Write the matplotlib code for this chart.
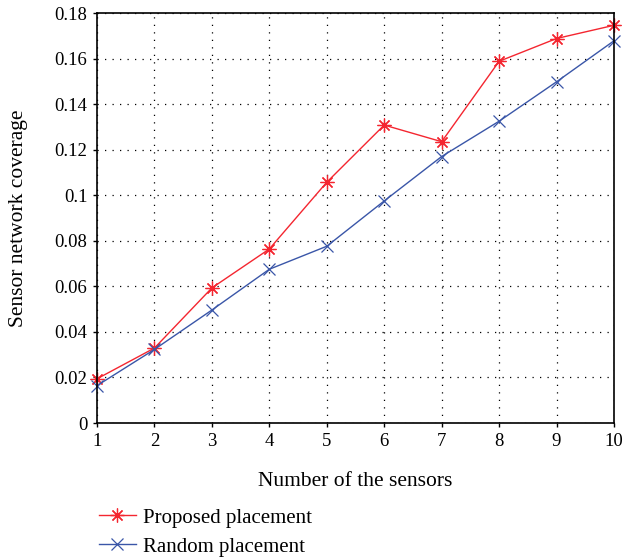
import matplotlib
matplotlib.use("Agg")
import matplotlib.pyplot as plt
from matplotlib.ticker import FuncFormatter

sensors = [1, 2, 3, 4, 5, 6, 7, 8, 9, 10]
proposed = [0.0194, 0.0329, 0.0593, 0.0764, 0.1057, 0.1308, 0.1235, 0.1588, 0.1688, 0.1746]
random_pl = [0.0164, 0.0323, 0.0496, 0.0675, 0.0776, 0.0975, 0.1170, 0.1325, 0.1498, 0.1678]
yticks = [0, 0.02, 0.04, 0.06, 0.08, 0.1, 0.12, 0.14, 0.16, 0.18]

plt.rcParams['font.family'] = ['Liberation Serif', 'DejaVu Serif']

fig = plt.figure(figsize=(6.23, 5.58), dpi=100)
ax = fig.add_axes([97/623, 1-423/558, (614-97)/623, (423-13)/558])

ax.plot(sensors, proposed, color='#f42630', marker=(8, 2, 0), markersize=10, linewidth=1.0,
        markeredgewidth=0.9, label='Proposed placement', clip_on=False)
ax.plot(sensors, random_pl, color='#3a56a8', marker='x', markersize=8, linewidth=1.0,
        markeredgewidth=0.9, label='Random placement', clip_on=False)

ax.set_xlim(1, 10)
ax.set_ylim(0, 0.18)
ax.set_xticks(sensors)
ax.set_yticks(yticks)
ax.yaxis.set_major_formatter(FuncFormatter(lambda v, p: '%g' % round(v, 4)))
ax.grid(True, color='black', linestyle=(0, (1, 5)), linewidth=0.9)
for s in ax.spines.values():
    s.set_linewidth(1.2)
ax.tick_params(labelsize=13.5, direction='out', length=3, width=1, pad=4)

ax.set_xlabel('Number of the sensors', fontsize=15.5, labelpad=16)
ax.set_ylabel('Sensor network coverage', fontsize=15.5, labelpad=19)

fig.legend(loc='upper left', bbox_to_anchor=(95/623, 1-504/558), frameon=False,
           fontsize=15, handlelength=1.75, handletextpad=0.35, labelspacing=0.45,
           borderpad=0.2, borderaxespad=0)

fig.savefig('out.png', dpi=100)
